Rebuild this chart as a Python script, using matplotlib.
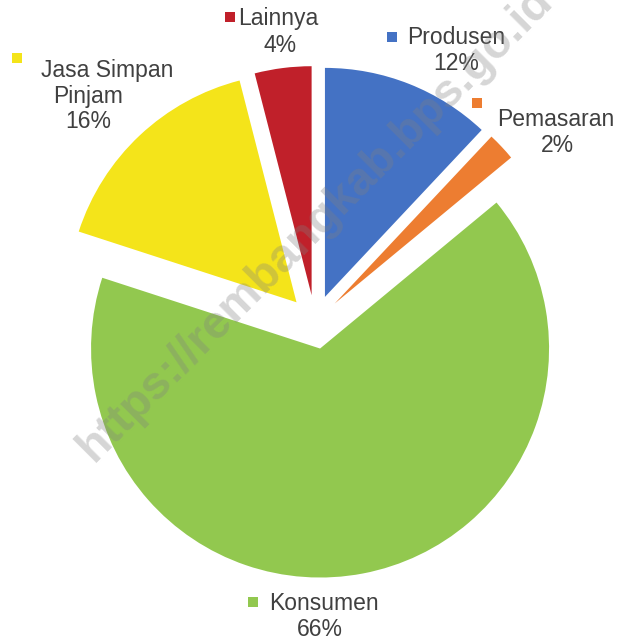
import matplotlib
matplotlib.use("Agg")
import matplotlib.pyplot as plt

categories = ["Produsen", "Pemasaran", "Konsumen", "Jasa Simpan\nPinjam", "Lainnya"]
values = [12, 2, 66, 16, 4]
pct_labels = ["12%", "2%", "66%", "16%", "4%"]
colors = ["#4472C4", "#ED7D31", "#92C84F", "#F4E41A", "#C0202A"]

W, H = 619, 640
fig = plt.figure(figsize=(W / 100, H / 100), dpi=100)
ax = fig.add_axes([0, 0, 1, 1])

cx, cy, r = 315, H - 322, 229
ax.pie(values, colors=colors, startangle=90, counterclock=False,
       radius=r, center=(cx, cy), explode=[27] * len(values),
       wedgeprops=dict(linewidth=0), frame=True)
ax.set_xlim(0, W)
ax.set_ylim(0, H)
ax.set_aspect("auto")
ax.axis("off")

# label layout in pixel coords: list of (x, y) per text line, then marker (x, y)
label_lines = {
    "Produsen": [(456, 37), (456, 63)],
    "Pemasaran": [(556, 120), (557, 146)],
    "Konsumen": [(324, 604), (320, 630)],
    "Jasa Simpan\nPinjam": [(107, 70), (88, 96), (88, 121)],
    "Lainnya": [(278, 18), (280, 45)],
}
markers = {
    "Produsen": (392, 37),
    "Pemasaran": (477, 103),
    "Konsumen": (253, 602),
    "Jasa Simpan\nPinjam": (17, 58),
    "Lainnya": (230, 17),
}
txtcol = "#404040"
fs = 16.5
for cat, pct, col in zip(categories, pct_labels, colors):
    lines = cat.split("\n") + [pct]
    for line, (x, y) in zip(lines, label_lines[cat]):
        ax.text(x, H - y, line, ha="center", va="center",
                fontsize=fs, color=txtcol, family="Liberation Sans")
    mx, my = markers[cat]
    ax.scatter([mx], [H - my], marker="s", s=60, color=col, linewidths=0)

ax.text(316, H - 224, "https://rembangkab.bps.go.id", rotation=45,
        ha="center", va="center", fontsize=33.5, fontweight="bold",
        color="#808080", alpha=0.32, family="Liberation Sans")

fig.savefig("out.png", dpi=100)
